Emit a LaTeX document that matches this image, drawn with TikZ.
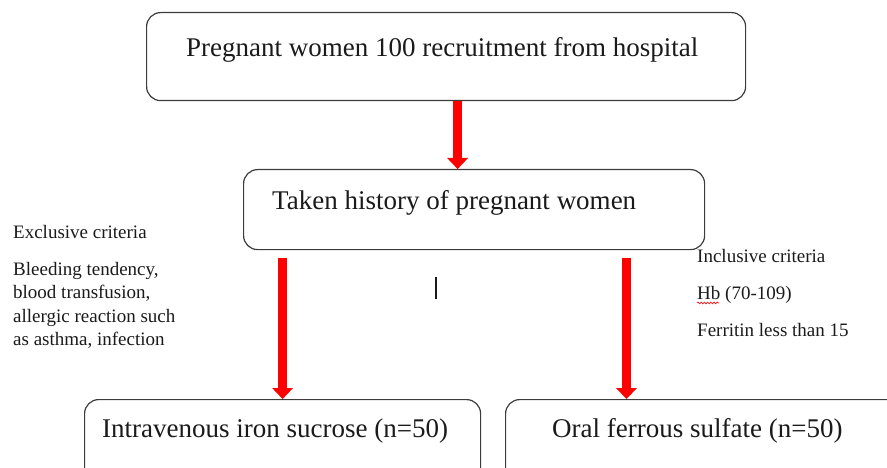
\documentclass[tikz,border=0pt]{standalone}
\usepackage{fontspec}
\setmainfont{Liberation Serif}
\usetikzlibrary{arrows.meta,decorations.pathmorphing}
\definecolor{boxline}{HTML}{3C3C3C}
\definecolor{inktext}{HTML}{1A1A1A}
\tikzset{
  stage/.style={draw=boxline, line width=1.2pt, rounded corners=14pt, anchor=north west, inner sep=0pt},
  stagetext/.style={anchor=west, inner sep=0pt, text=inktext, font=\fontsize{27}{32}\selectfont},
  note/.style={anchor=base west, inner sep=0pt, align=left, text=inktext, font=\fontsize{19}{23.5}\selectfont},
  flow/.style={draw=red, line width=9.5pt, -{Triangle[length=11pt,width=21pt,line width=0pt]}},
}
\begin{document}
\begin{tikzpicture}[x=1pt,y=-1pt]
    \useasboundingbox (0,0) rectangle (887,468);
    \clip (0,0) rectangle (887,468);

    \node[stage, minimum width=599pt, minimum height=88pt] (recruit) at (146,12) {};
    \node[stage, minimum width=461pt, minimum height=80pt] (history) at (243,169) {};
    \node[stage, minimum width=396pt, minimum height=95pt] (iv) at (84,399) {};
    \node[stage, minimum width=420pt, minimum height=95pt] (oral) at (505,399) {};

    \node[stagetext] (recruittext) at ([xshift=40pt,yshift=-38pt]recruit.north west) {Pregnant women 100 recruitment from hospital};
    \node[stagetext] (historytext) at ([xshift=29pt,yshift=-34pt]history.north west) {Taken history of pregnant women};
    \node[stagetext] (ivtext) at ([xshift=18pt,yshift=-32pt]iv.north west) {Intravenous iron sucrose (n=50)};
    \node[stagetext] (oraltext) at ([xshift=47pt,yshift=-32pt]oral.north west) {Oral ferrous sulfate (n=50)};

    \node[note] (exclhead) at (13,239) {Exclusive criteria};
    \node[note, anchor=north west] (excl) at (13,262) {Bleeding tendency,\\blood transfusion,\\allergic reaction such\\as asthma, infection};
    \node[note] (inclhead) at (697,262) {Inclusive criteria};
    \node[note] (hb) at (697,299) {Hb (70-109)};
    \node[note] (ferritin) at (697,336) {Ferritin less than 15};
    \draw[red, line width=0.6pt, decorate, decoration={snake, amplitude=0.9pt, segment length=3.2pt}]
        ([yshift=-4pt]hb.base west) -- ++(22,0);

    \coordinate (oraltop) at ([xshift=121.5pt]oral.north west);
    \draw[flow] ([xshift=11.5pt]recruit.south) -- ([xshift=11.5pt]recruit.south |- history.north);
    \draw[flow] ([yshift=-8pt]history.south -| iv.north) -- (iv.north);
    \draw[flow] ([yshift=-8pt]history.south -| oraltop) -- (oraltop);

    \draw[line width=1.2pt, inktext] (436,277) -- (436,299);
\end{tikzpicture}
\end{document}
